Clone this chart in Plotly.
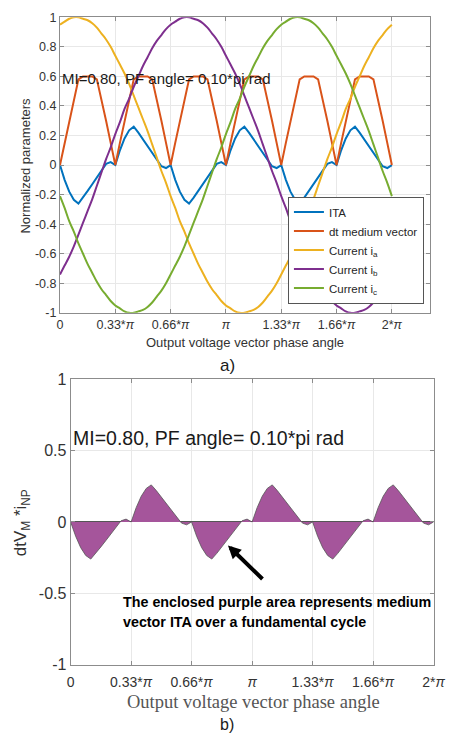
import plotly.graph_objects as go

# ---------------- data ----------------
angle_deg = list(range(0, 361, 5))  # output voltage vector phase angle, degrees (0 .. 2*pi)

current_a = [0.95, 0.97, 0.99, 1.00, 1.00, 0.99, 0.98, 0.96, 0.93, 0.89, 0.85, 0.80,
             0.74, 0.68, 0.62, 0.55, 0.47, 0.39, 0.31, 0.23, 0.14, 0.05, -0.04, -0.12,
             -0.21, -0.29, -0.38, -0.45, -0.53, -0.60, -0.67, -0.73, -0.79, -0.84, -0.88, -0.92,
             -0.95, -0.97, -0.99, -1.00, -1.00, -0.99, -0.98, -0.96, -0.93, -0.89, -0.85, -0.80,
             -0.74, -0.68, -0.62, -0.55, -0.47, -0.39, -0.31, -0.23, -0.14, -0.05, 0.04, 0.12,
             0.21, 0.29, 0.38, 0.45, 0.53, 0.60, 0.67, 0.73, 0.79, 0.84, 0.88, 0.92,
             0.95]

current_b = [-0.74, -0.68, -0.62, -0.55, -0.47, -0.39, -0.31, -0.23, -0.14, -0.05, 0.04, 0.12,
             0.21, 0.29, 0.38, 0.45, 0.53, 0.60, 0.67, 0.73, 0.79, 0.84, 0.88, 0.92,
             0.95, 0.97, 0.99, 1.00, 1.00, 0.99, 0.98, 0.96, 0.93, 0.89, 0.85, 0.80,
             0.74, 0.68, 0.62, 0.55, 0.47, 0.39, 0.31, 0.23, 0.14, 0.05, -0.04, -0.12,
             -0.21, -0.29, -0.38, -0.45, -0.53, -0.60, -0.67, -0.73, -0.79, -0.84, -0.88, -0.92,
             -0.95, -0.97, -0.99, -1.00, -1.00, -0.99, -0.98, -0.96, -0.93, -0.89, -0.85, -0.80,
             -0.74]

current_c = [-0.21, -0.29, -0.38, -0.45, -0.53, -0.60, -0.67, -0.73, -0.79, -0.84, -0.88, -0.92,
             -0.95, -0.97, -0.99, -1.00, -1.00, -0.99, -0.98, -0.96, -0.93, -0.89, -0.85, -0.80,
             -0.74, -0.68, -0.62, -0.55, -0.47, -0.39, -0.31, -0.23, -0.14, -0.05, 0.04, 0.12,
             0.21, 0.29, 0.38, 0.45, 0.53, 0.60, 0.67, 0.73, 0.79, 0.84, 0.88, 0.92,
             0.95, 0.97, 0.99, 1.00, 1.00, 0.99, 0.98, 0.96, 0.93, 0.89, 0.85, 0.80,
             0.74, 0.68, 0.62, 0.55, 0.47, 0.39, 0.31, 0.23, 0.14, 0.05, -0.04, -0.12,
             -0.21]

dt_medium = [0.00, 0.15, 0.30, 0.45, 0.58, 0.60, 0.60, 0.60, 0.58, 0.45, 0.30, 0.15,
             0.00, 0.15, 0.30, 0.45, 0.58, 0.60, 0.60, 0.60, 0.58, 0.45, 0.30, 0.15,
             0.00, 0.15, 0.30, 0.45, 0.58, 0.60, 0.60, 0.60, 0.58, 0.45, 0.30, 0.15,
             0.00, 0.15, 0.30, 0.45, 0.58, 0.60, 0.60, 0.60, 0.58, 0.45, 0.30, 0.15,
             0.00, 0.15, 0.30, 0.45, 0.58, 0.60, 0.60, 0.60, 0.58, 0.45, 0.30, 0.15,
             0.00, 0.15, 0.30, 0.45, 0.58, 0.60, 0.60, 0.60, 0.58, 0.45, 0.30, 0.15,
             0.00]

ita = [0.000, -0.100, -0.180, -0.235, -0.260, -0.220, -0.175, -0.130, -0.085, -0.035, 0.008, 0.020,
       0.000, 0.100, 0.180, 0.235, 0.260, 0.220, 0.175, 0.130, 0.085, 0.035, -0.008, -0.020,
       0.000, -0.100, -0.180, -0.235, -0.260, -0.220, -0.175, -0.130, -0.085, -0.035, 0.008, 0.020,
       0.000, 0.100, 0.180, 0.235, 0.260, 0.220, 0.175, 0.130, 0.085, 0.035, -0.008, -0.020,
       0.000, -0.100, -0.180, -0.235, -0.260, -0.220, -0.175, -0.130, -0.085, -0.035, 0.008, 0.020,
       0.000, 0.100, 0.180, 0.235, 0.260, 0.220, 0.175, 0.130, 0.085, 0.035, -0.008, -0.020,
       0.000]

x_tick_vals = [0, 60, 120, 180, 240, 300, 360]
x_tick_text = ["0", "0.33*<i>π</i>", "0.66*<i>π</i>", "<i>π</i>", "1.33*<i>π</i>", "1.66*<i>π</i>", "2*<i>π</i>"]
top_y_vals = [-1, -0.8, -0.6, -0.4, -0.2, 0, 0.2, 0.4, 0.6, 0.8, 1]
top_y_text = ["-1", "-0.8", "-0.6", "-0.4", "-0.2", "0", "0.2", "0.4", "0.6", "0.8", "1"]
bot_y_vals = [-1, -0.5, 0, 0.5, 1]
bot_y_text = ["-1", "-0.5", "0", "0.5", "1"]

# ---------------- style ----------------
W, H = 462, 743
FONT = "Liberation Sans, Arial, Helvetica, sans-serif"
TXT = "#333333"
AXC = "#8c8c8c"
GRID = "#e8e8e8"
C_ITA, C_DT, C_A, C_B, C_C = "#0072BD", "#D95319", "#EDB120", "#7E2F8E", "#77AC30"


def px(x):
    return x / W


def py(y):
    return 1 - y / H


fig = go.Figure()

series = [("ITA", ita, C_ITA, "linear"),
          ("dt medium vector", dt_medium, C_DT, "linear"),
          ("Current i<sub>a</sub>", current_a, C_A, "spline"),
          ("Current i<sub>b</sub>", current_b, C_B, "spline"),
          ("Current i<sub>c</sub>", current_c, C_C, "spline")]
for name, vals, col, shape in series:
    fig.add_trace(go.Scatter(x=angle_deg, y=vals, mode="lines", name=name,
                             line=dict(color=col, width=2, shape=shape),
                             xaxis="x", yaxis="y"))

fig.add_trace(go.Scatter(x=angle_deg, y=ita, mode="lines", fill="tozeroy",
                         fillcolor="#A5559B", line=dict(color="#555555", width=0.8),
                         showlegend=False, xaxis="x2", yaxis="y2"))

axis_common = dict(showline=True, linecolor=AXC, linewidth=1, mirror="ticks",
                   ticks="inside", ticklen=4, tickcolor=AXC,
                   showgrid=True, gridcolor=GRID, gridwidth=1, zeroline=False)

fig.update_layout(
    width=W, height=H, margin=dict(l=0, r=0, t=0, b=0),
    paper_bgcolor="white", plot_bgcolor="white",
    font=dict(family=FONT, color=TXT),
    xaxis=dict(domain=[px(58), px(441)], range=[0, 401.07], tickvals=x_tick_vals,
               ticktext=x_tick_text, tickfont=dict(size=12.5, color=TXT), anchor="y", **axis_common),
    yaxis=dict(domain=[py(312), py(9.5)], range=[-1, 1], tickvals=top_y_vals,
               ticktext=top_y_text, tickfont=dict(size=12.5, color=TXT), anchor="x", **axis_common),
    xaxis2=dict(domain=[px(69), px(445)], range=[0, 360], tickvals=x_tick_vals,
                ticktext=x_tick_text, tickfont=dict(size=14, color=TXT), anchor="y2",
                ticklabelstandoff=5, **axis_common),
    yaxis2=dict(domain=[py(672), py(380)], range=[-1, 1], tickvals=bot_y_vals,
                ticktext=bot_y_text, tickfont=dict(size=16, color=TXT), anchor="x2", **axis_common),
    legend=dict(x=px(435), y=py(193), xanchor="right", yanchor="top",
                bgcolor="white", bordercolor="#555555", borderwidth=1,
                font=dict(size=11.5, color="#262626"), tracegroupgap=0, itemwidth=30),
)
fig.update_yaxes(selector=dict(anchor="x2"), zeroline=True, zerolinecolor="#555555", zerolinewidth=1)

ann = [
    dict(text="MI=0.80, PF angle= 0.10*pi rad", x=px(58), y=py(72), xanchor="left", yanchor="middle",
         font=dict(size=15, color="#1a1a1a")),
    dict(text="Output voltage vector phase angle", x=px(249.5), y=py(342), xanchor="center", yanchor="middle",
         font=dict(size=13, color=TXT)),
    dict(text="Normalized parameters", x=px(22), y=py(161), textangle=-90, xanchor="center", yanchor="middle",
         font=dict(size=13, color=TXT)),
    dict(text="a)", x=px(231), y=py(366), xanchor="center", yanchor="middle",
         font=dict(size=17, color="#1a1a1a")),
    dict(text="MI=0.80, PF angle= 0.10*pi rad", x=px(69), y=py(440), xanchor="left", yanchor="middle",
         font=dict(size=19.5, color="#1a1a1a")),
    dict(text="dtV<sub>M</sub> *i<sub>NP</sub>", x=px(19), y=py(527), textangle=-90, xanchor="center",
         yanchor="middle", font=dict(size=17, color=TXT)),
    dict(text="Output voltage vector phase angle", x=px(258), y=py(710), xanchor="center", yanchor="middle",
         font=dict(size=18.5, color="#555555", family="Liberation Serif, Times New Roman, serif")),
    dict(text="b)", x=px(231), y=py(733), xanchor="center", yanchor="middle",
         font=dict(size=16, color="#1a1a1a")),
    dict(text="<b>The enclosed purple area represents medium</b>", x=px(121), y=py(608), xanchor="left",
         yanchor="middle", font=dict(size=14.3, color="black")),
    dict(text="<b>vector ITA over a fundamental cycle</b>", x=px(121), y=py(628), xanchor="left",
         yanchor="middle", font=dict(size=14.3, color="black")),
]
for a in ann:
    a.update(xref="paper", yref="paper", showarrow=False)
    fig.add_annotation(**a)

fig.add_annotation(x=px(232), y=py(550), xref="paper", yref="paper", text="", showarrow=True,
                   ax=36, ay=35, arrowhead=2, arrowsize=0.65, arrowwidth=4, arrowcolor="black")

fig.write_html("out.html")
